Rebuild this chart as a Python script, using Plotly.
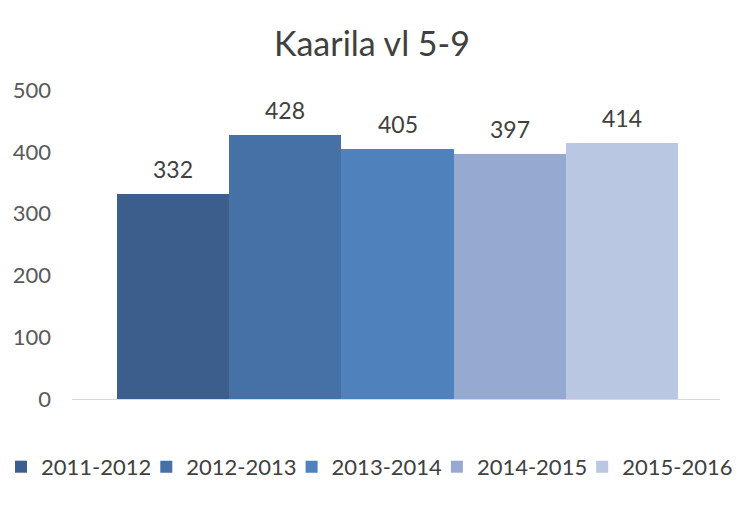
import plotly.graph_objects as go

seasons = ["2011-2012", "2012-2013", "2013-2014", "2014-2015", "2015-2016"]
values = [332, 428, 405, 397, 414]
colors = ["#3B5E8C", "#4571A6", "#4F81BD", "#95A9D1", "#B9C7E2"]
title = "Kaarila vl 5-9"
yticks = [0, 100, 200, 300, 400, 500]

font = "Lato, 'Open Sans', sans-serif"
legend_font = dict(family=font, size=22, color="#404040")
fig = go.Figure()
legends = {}
for i, (s, v, c) in enumerate(zip(seasons, values, colors)):
    key = "legend" if i == 0 else f"legend{i + 1}"
    fig.add_trace(go.Bar(x=[i], y=[v], name=s, marker=dict(color=c, line=dict(width=0)),
                         width=1.0, hoverinfo="skip", legend=key))
    fig.add_annotation(x=i, y=v, text=str(v), showarrow=False, yanchor="bottom", yshift=9,
                       font=dict(family=font, size=23, color="#404040"))
    legends[key] = dict(orientation="h", xref="container", yref="container", xanchor="left",
                        x=(1 + 145.3 * i) / 744, y=0.109, yanchor="middle", font=legend_font,
                        itemwidth=30, bgcolor="rgba(0,0,0,0)")

fig.update_layout(
    width=744, height=524,
    margin=dict(l=72, r=24, t=90, b=125, autoexpand=False),
    paper_bgcolor="white", plot_bgcolor="white",
    title=dict(text=title, x=0.5, xanchor="center", y=0.915, yanchor="middle",
               font=dict(family=font, size=34, color="#404040")),
    showlegend=True,
    xaxis=dict(range=[-0.902, 4.875], showticklabels=False, showgrid=False, zeroline=False,
               showline=True, linecolor="#D9D9D9", linewidth=1, ticks=""),
    yaxis=dict(range=[0, 500], tickvals=yticks, showgrid=False, zeroline=False,
               tickfont=dict(family=font, size=22, color="#595959"), ticklabelstandoff=20),
    bargap=0,
    **legends,
)
fig.write_html("out.html")
